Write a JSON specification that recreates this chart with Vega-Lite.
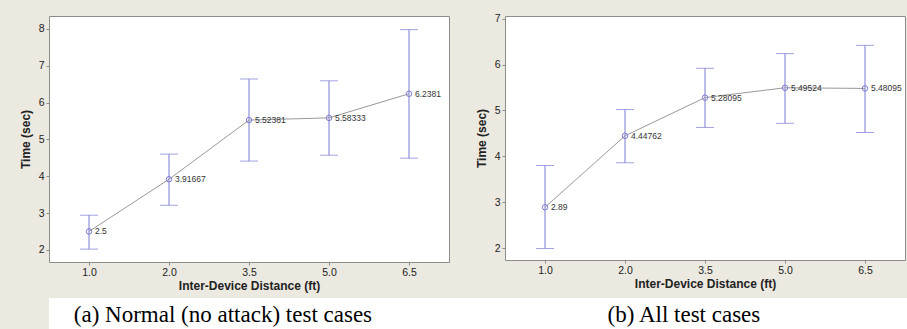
{
  "$schema": "https://vega.github.io/schema/vega-lite/v6.json",
  "background": "#ECE9E1",
  "padding": {"left": 18, "top": 13, "right": 0, "bottom": 0},
  "spacing": 6,
  "datasets": {
    "a": [
      {"d": "1.0", "mean": 2.5, "lo": 2.02, "hi": 2.94},
      {"d": "2.0", "mean": 3.91667, "lo": 3.21, "hi": 4.6},
      {"d": "3.5", "mean": 5.52381, "lo": 4.41, "hi": 6.64},
      {"d": "5.0", "mean": 5.58333, "lo": 4.57, "hi": 6.59},
      {"d": "6.5", "mean": 6.2381, "lo": 4.49, "hi": 7.98}
    ],
    "b": [
      {"d": "1.0", "mean": 2.89, "lo": 1.99, "hi": 3.8},
      {"d": "2.0", "mean": 4.44762, "lo": 3.86, "hi": 5.02},
      {"d": "3.5", "mean": 5.28095, "lo": 4.63, "hi": 5.92},
      {"d": "5.0", "mean": 5.49524, "lo": 4.72, "hi": 6.24},
      {"d": "6.5", "mean": 5.48095, "lo": 4.52, "hi": 6.42}
    ],
    "cap": [
      {"p": "a", "caption": "(a) Normal (no attack) test cases"},
      {"p": "b", "caption": "(b) All test cases"}
    ]
  },
  "vconcat": [
    {
      "hconcat": [
        {
          "width": 400,
          "height": 246,
          "data": {"name": "a"},
          "encoding": {
            "x": {"field": "d", "type": "ordinal", "scale": {"type": "point", "padding": 0.5}, "title": "Inter-Device Distance (ft)"}
          },
          "layer": [
            {"mark": {"type": "rule", "color": "#7B7BD4", "strokeWidth": 1},
             "encoding": {"y": {"field": "lo", "type": "quantitative", "title": "Time (sec)", "scale": {"domain": [1.67, 8.35], "nice": false, "zero": false}, "axis": {"values": [2, 3, 4, 5, 6, 7, 8]}}, "y2": {"field": "hi"}}},
            {"mark": {"type": "tick", "orient": "horizontal", "size": 18, "thickness": 1, "color": "#7B7BD4"},
             "encoding": {"y": {"field": "lo", "type": "quantitative", "title": "Time (sec)"}}},
            {"mark": {"type": "tick", "orient": "horizontal", "size": 18, "thickness": 1, "color": "#7B7BD4"},
             "encoding": {"y": {"field": "hi", "type": "quantitative", "title": "Time (sec)"}}},
            {"mark": {"type": "line", "color": "#999999", "strokeWidth": 1},
             "encoding": {"y": {"field": "mean", "type": "quantitative", "title": "Time (sec)"}}},
            {"mark": {"type": "point", "shape": "circle", "filled": false, "size": 30, "color": "#7B7BD4", "strokeWidth": 1, "opacity": 1},
             "encoding": {"y": {"field": "mean", "type": "quantitative", "title": "Time (sec)"}}},
            {"mark": {"type": "text", "align": "left", "baseline": "middle", "dx": 6, "font": "Liberation Sans", "fontSize": 8.5, "color": "#333333"},
             "encoding": {"y": {"field": "mean", "type": "quantitative", "title": "Time (sec)"}, "text": {"field": "mean", "type": "nominal"}}}
          ]
        },
        {
          "width": 400,
          "height": 244,
          "data": {"name": "b"},
          "encoding": {
            "x": {"field": "d", "type": "ordinal", "scale": {"type": "point", "padding": 0.5}, "title": "Inter-Device Distance (ft)"}
          },
          "layer": [
            {"mark": {"type": "rule", "color": "#7B7BD4", "strokeWidth": 1},
             "encoding": {"y": {"field": "lo", "type": "quantitative", "title": "Time (sec)", "scale": {"domain": [1.74, 7.06], "nice": false, "zero": false}, "axis": {"values": [2, 3, 4, 5, 6, 7]}}, "y2": {"field": "hi"}}},
            {"mark": {"type": "tick", "orient": "horizontal", "size": 18, "thickness": 1, "color": "#7B7BD4"},
             "encoding": {"y": {"field": "lo", "type": "quantitative", "title": "Time (sec)"}}},
            {"mark": {"type": "tick", "orient": "horizontal", "size": 18, "thickness": 1, "color": "#7B7BD4"},
             "encoding": {"y": {"field": "hi", "type": "quantitative", "title": "Time (sec)"}}},
            {"mark": {"type": "line", "color": "#999999", "strokeWidth": 1},
             "encoding": {"y": {"field": "mean", "type": "quantitative", "title": "Time (sec)"}}},
            {"mark": {"type": "point", "shape": "circle", "filled": false, "size": 30, "color": "#7B7BD4", "strokeWidth": 1, "opacity": 1},
             "encoding": {"y": {"field": "mean", "type": "quantitative", "title": "Time (sec)"}}},
            {"mark": {"type": "text", "align": "left", "baseline": "middle", "dx": 6, "font": "Liberation Sans", "fontSize": 8.5, "color": "#333333"},
             "encoding": {"y": {"field": "mean", "type": "quantitative", "title": "Time (sec)"}, "text": {"field": "mean", "type": "nominal"}}}
          ]
        }
      ],
      "spacing": 56,
      "bounds": "flush"
    },
    {
      "width": 859,
      "height": 33,
      "data": {"name": "cap"},
      "view": {"fill": "white", "stroke": null},
      "mark": {"type": "text", "font": "Liberation Serif", "fontSize": 23, "color": "#000000", "baseline": "middle"},
      "encoding": {
        "x": {"field": "p", "type": "nominal", "scale": {"type": "point", "padding": 0.4317, "align": 0.437}, "axis": null},
        "text": {"field": "caption"}
      }
    }
  ],
  "config": {
    "view": {"fill": "white", "stroke": "#8C8C8C", "strokeWidth": 1},
    "axis": {
      "domain": false,
      "grid": false,
      "tickColor": "#8C8C8C",
      "tickSize": 3,
      "labelFont": "Liberation Sans",
      "labelFontSize": 10.5,
      "labelColor": "#222222",
      "labelPadding": 2,
      "titleFont": "Liberation Sans",
      "titleFontSize": 12,
      "titleFontWeight": "bold",
      "titleColor": "#222222"
    },
    "axisX": {"labelAngle": 0, "titlePadding": 3},
    "axisY": {"titlePadding": 6}
  }
}
